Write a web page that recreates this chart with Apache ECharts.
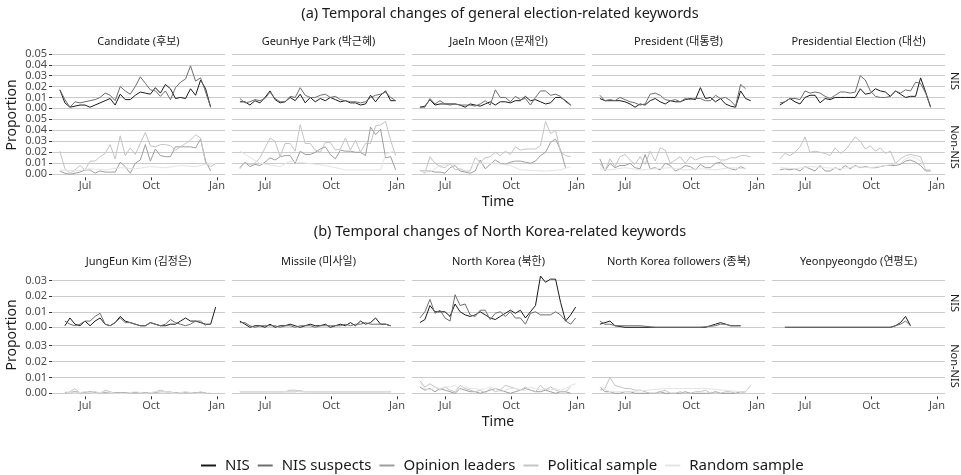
<!DOCTYPE html>
<html>
<head>
<meta charset="utf-8">
<script src="https://cdn.jsdelivr.net/npm/echarts@6/dist/echarts.min.js"></script>
<style>
  html, body { margin: 0; padding: 0; background: #fff; }
  #chart { width: 961px; height: 475px; }
</style>
</head>
<body>
<div id="chart"></div>
<script>
// weekly observations (week starting)
const weekStarts = ['2012-05-27', '2012-06-03', '2012-06-10', '2012-06-17', '2012-06-24',
  '2012-07-01', '2012-07-08', '2012-07-15', '2012-07-22', '2012-07-29', '2012-08-05',
  '2012-08-12', '2012-08-19', '2012-08-26', '2012-09-02', '2012-09-09', '2012-09-16',
  '2012-09-23', '2012-09-30', '2012-10-07', '2012-10-14', '2012-10-21', '2012-10-28',
  '2012-11-04', '2012-11-11', '2012-11-18', '2012-11-25', '2012-12-02', '2012-12-09',
  '2012-12-16', '2012-12-23', '2012-12-30'];

const tickDays = [0, 92, 184];          // days after 2012-07-01
const tickNames = ['Jul', 'Oct', 'Jan'];

const groups = ['NIS', 'NIS suspects', 'Opinion leaders', 'Political sample', 'Random sample'];
const groupColors = ['#1a1a1a', '#6e6e6e', '#9e9e9e', '#c4c4c4', '#e4e4e4'];

const keywordsA = ['Candidate (후보)', 'GeunHye Park (박근혜)', 'JaeIn Moon (문재인)', 'President (대통령)', 'Presidential Election (대선)'];
const keywordsB = ['JungEun Kim (김정은)', 'Missile (미사일)', 'North Korea (북한)', 'North Korea followers (종북)', 'Yeonpyeongdo (연평도)'];

// ---- Candidate
const candNIS  = [0.017,0.005,0.001,0.002,0.003,0.003,0.001,0.003,0.005,0.007,0.009,0.003,0.013,0.008,0.008,0.012,0.015,0.014,0.013,0.019,0.014,0.022,0.018,0.009,0.010,0.009,0.018,0.012,0.026,0.018,0.001,null];
const candSusp = [0.017,0.008,0.001,0.006,0.005,0.006,0.007,0.008,0.010,0.014,0.012,0.007,0.020,0.016,0.013,0.020,0.029,0.023,0.017,0.016,0.011,0.016,0.008,0.019,0.024,0.027,0.039,0.025,0.028,0.015,0.001,null];
const candOpin = [0.003,0.001,0.000,0.001,0.002,0.004,0.004,0.001,0.003,0.002,0.002,0.002,0.011,0.007,0.001,0.010,0.013,0.027,0.012,0.023,0.017,0.016,0.016,0.025,0.025,0.025,0.025,0.024,0.032,0.012,0.003,null];
const candPol  = [0.021,0.005,0.001,0.004,0.008,0.004,0.012,0.012,0.016,0.019,0.027,0.014,0.035,0.017,0.024,0.018,0.028,0.038,0.026,0.025,0.027,0.027,0.026,0.022,0.025,0.028,0.031,0.036,0.033,0.010,0.007,0.010];
const candRand = [0.004,null,null,0.003,null,null,0.005,null,null,0.004,null,null,0.006,null,null,0.005,null,null,0.007,null,null,0.006,null,null,0.008,null,null,0.007,null,0.009,null,0.010];

// ---- GeunHye Park
const parkNIS  = [0.006,0.006,0.003,0.007,0.005,0.010,0.016,0.008,0.005,0.006,0.010,0.007,0.013,0.005,0.010,0.006,0.009,0.007,0.010,0.008,0.006,0.007,0.005,0.005,0.003,0.004,0.012,0.006,0.012,0.016,0.007,0.007];
const parkSusp = [0.009,0.005,0.006,0.008,0.007,0.009,0.015,0.009,0.006,0.006,0.011,0.010,0.019,0.012,0.010,0.010,0.012,0.013,0.010,0.011,0.008,0.007,0.006,0.006,0.005,0.006,0.010,0.012,0.013,0.015,0.010,0.007];
const parkOpin = [0.006,0.011,0.007,0.009,0.008,0.011,0.015,0.013,0.016,0.017,0.017,0.010,0.021,0.018,0.018,0.020,0.023,0.025,0.018,0.014,0.022,0.021,0.021,0.020,0.020,0.017,0.043,0.036,0.041,0.015,0.016,0.004];
const parkPol  = [0.005,0.011,0.009,0.010,0.015,0.024,0.033,0.030,0.016,0.028,0.028,0.021,0.045,0.028,0.028,0.022,0.020,0.029,0.029,0.022,0.023,0.033,0.022,0.031,0.020,0.028,0.028,0.044,0.045,0.048,0.031,0.017];
const parkRand = [0.021,null,null,null,0.010,null,null,null,0.007,null,0.012,null,null,null,null,null,null,0.008,null,null,null,0.004,null,null,null,null,null,null,0.004,0.018,null,0.022];

// ---- JaeIn Moon
const moonNIS  = [0.001,0.002,0.008,0.003,0.004,0.004,0.004,0.004,0.003,0.001,0.004,0.003,0.002,0.004,0.006,0.003,0.006,0.006,0.005,0.007,0.007,0.011,0.007,0.008,0.006,0.004,0.005,0.010,0.010,0.007,0.003,null];
const moonSusp = [0.001,0.001,0.009,0.004,0.007,0.004,0.003,0.004,0.003,0.003,0.003,0.002,0.004,0.007,0.003,0.017,0.010,0.010,0.006,0.011,0.008,0.009,0.003,0.010,0.016,0.016,0.012,0.013,0.011,0.006,0.003,null];
const moonOpin = [0.003,0.003,0.003,0.002,0.002,0.001,0.006,0.008,0.003,0.002,0.001,0.003,0.013,0.005,0.009,0.013,0.010,0.009,0.011,0.012,0.012,0.011,0.010,0.012,0.017,0.020,0.029,0.032,0.022,0.006,null,null];
const moonPol  = [0.004,0.001,0.016,0.010,0.007,0.006,0.010,0.004,0.005,0.003,0.003,0.015,0.011,0.015,0.016,0.020,0.017,0.021,0.018,0.025,0.022,0.023,0.023,0.023,0.026,0.048,0.037,0.040,0.020,0.017,0.016,null];
const moonRand = [0.003,null,0.002,null,0.008,null,0.009,null,null,null,0.010,null,null,null,null,0.010,null,null,0.008,null,0.004,null,null,null,null,0.003,null,null,0.004,null,0.007,null];

// ---- President
const presNIS  = [0.009,0.007,0.007,0.007,0.007,0.006,0.004,0.001,0.004,0.003,0.007,0.009,0.006,0.004,0.007,0.006,0.006,0.008,0.009,0.008,0.019,0.009,0.010,0.006,0.009,0.004,0.002,0.001,0.016,0.009,0.007,null];
const presSusp = [0.012,0.007,0.008,0.007,0.010,0.008,0.006,0.005,0.003,0.004,0.013,0.014,0.012,0.008,0.007,0.008,0.006,0.009,0.008,0.009,0.009,0.007,0.007,0.012,0.009,0.010,0.007,0.002,0.022,0.018,null,null];
const presOpin = [0.014,0.003,0.010,0.006,0.008,0.008,0.010,0.006,0.005,0.018,0.005,0.006,0.004,0.010,0.008,0.003,0.005,0.008,0.007,0.004,0.009,0.006,0.006,0.010,0.011,0.007,0.005,0.004,0.007,0.005,null,null];
const presPol  = [0.010,0.003,0.014,0.007,0.016,0.018,0.013,0.009,0.016,0.009,0.021,0.012,0.024,0.022,0.010,0.013,0.016,0.010,0.016,0.013,0.015,0.016,0.016,0.016,0.013,0.013,0.015,0.015,0.017,0.017,0.016,null];
const presRand = [0.005,null,0.004,null,null,0.006,null,null,0.004,null,null,0.005,null,null,0.006,null,null,0.004,null,null,0.005,null,null,0.004,null,null,0.006,null,null,0.005,null,null];

// ---- Presidential Election
const elecNIS  = [0.003,0.006,0.009,0.006,0.004,0.010,0.012,0.012,0.005,0.009,0.008,0.010,0.010,0.010,0.010,0.010,0.018,0.013,0.014,0.018,0.016,0.015,0.011,0.016,0.013,0.010,0.011,0.011,0.028,0.015,0.001,null];
const elecSusp = [0.005,0.006,0.009,0.009,0.008,0.016,0.014,0.015,0.014,0.011,0.009,0.012,0.015,0.015,0.014,0.015,0.030,0.026,0.016,0.011,0.010,0.010,0.011,0.016,0.014,0.017,0.016,0.024,0.023,0.014,0.001,null];
const elecOpin = [0.004,0.005,0.004,0.005,0.003,0.007,0.005,0.003,0.008,0.003,0.003,0.006,0.004,0.008,0.005,0.008,0.006,0.007,0.006,0.006,0.007,0.008,0.008,0.008,0.009,0.012,0.013,0.011,0.008,0.003,0.003,null];
const elecPol  = [0.014,0.019,0.017,0.020,0.025,0.034,0.020,0.021,0.020,0.019,0.017,0.024,0.019,0.022,0.028,0.034,0.030,0.023,0.026,0.021,0.024,0.019,0.021,0.010,0.014,0.017,0.018,0.017,0.016,0.004,0.004,null];
const elecRand = [0.006,null,null,0.005,null,null,0.007,null,null,0.006,null,null,0.005,null,null,0.007,null,null,0.006,null,null,0.008,null,null,0.010,0.014,0.016,0.015,0.012,0.005,null,null];

// ---- JungEun Kim
const kimNIS  = [null,0.001,0.006,0.002,0.001,0.004,0.001,0.004,0.006,0.002,0.001,0.003,0.007,0.004,0.003,0.002,0.001,0.001,0.003,0.002,0.001,0.001,0.002,0.002,0.004,0.006,0.004,0.004,0.003,0.002,0.002,0.013];
const kimSusp = [null,0.004,0.002,0.001,0.002,0.004,0.004,0.007,0.009,0.002,0.001,0.003,0.006,0.003,0.003,0.002,0.001,0.001,0.003,0.002,0.001,0.002,0.005,0.003,0.002,0.001,0.002,0.004,0.004,0.001,null,null];
const kimOpin = [null,0.0005,0.0005,0.001,0.0005,0.0005,0.001,0.0005,0.0005,0.0005,0.0005,0.0005,0.0005,0.0005,0.0005,0.0005,0.0005,0.0005,0.0005,0.0005,0.001,0.001,0.0005,0.0005,0.0005,0.0005,0.0005,0.0005,0.0005,0.0005,null,null];
const kimPol  = [null,0.000,0.001,0.003,0.000,0.001,0.000,0.001,0.000,0.002,0.001,0.000,0.000,0.000,0.000,0.000,0.000,0.000,0.000,0.001,0.002,0.001,0.001,0.000,0.000,0.001,0.000,0.000,0.001,0.000,0.000,null];
const kimRand = [null,0.001,null,0.000,null,0.001,null,0.000,null,0.001,null,0.000,null,0.000,null,0.001,null,0.000,null,0.001,null,0.001,null,0.000,null,0.001,null,0.000,null,0.000,null,null];

// ---- Missile
const misNIS  = [0.004,0.002,0.000,0.001,0.001,0.000,0.002,0.000,0.001,0.001,0.002,0.001,0.000,0.001,0.002,0.001,0.001,0.002,0.000,0.001,0.002,0.001,0.003,0.001,0.004,0.002,0.003,0.006,0.002,0.002,0.001,null];
const misSusp = [0.003,0.003,0.001,0.000,0.001,0.001,0.001,0.001,0.000,0.001,0.001,0.000,0.001,0.001,0.001,0.000,0.001,0.001,0.001,0.001,0.001,0.002,0.001,0.002,0.002,0.003,0.002,0.002,0.002,0.002,0.001,null];
const misOpin = [0.001,0.001,0.001,0.001,0.001,0.001,0.001,0.001,0.001,0.001,0.001,0.001,0.0015,0.001,0.001,0.001,0.001,0.001,0.001,0.001,0.001,0.001,0.001,0.001,0.001,0.001,0.001,0.001,0.001,0.001,0.001,null];
const misPol  = [0.001,0.001,0.001,0.001,0.001,0.001,0.001,0.001,0.001,0.001,0.002,0.002,0.001,0.001,0.001,0.001,0.001,0.001,0.001,0.001,0.001,0.001,0.001,0.001,0.001,0.001,0.001,0.001,0.001,0.001,0.001,null];
const misRand = [0.001,null,0.001,null,0.001,null,0.001,null,0.001,null,0.001,null,0.001,null,0.001,null,0.001,null,0.001,null,0.001,null,0.001,null,0.001,null,0.001,null,0.001,null,0.001,null];

// ---- North Korea
const nkNIS  = [0.003,0.005,0.014,0.010,0.010,0.010,0.007,0.015,0.010,0.008,0.007,0.008,0.010,0.008,0.006,0.005,0.007,0.009,0.011,0.009,0.011,0.006,0.010,0.014,0.033,0.029,0.031,0.031,0.016,0.004,0.008,0.013];
const nkSusp = [0.006,0.010,0.018,0.009,0.011,0.006,0.004,0.021,0.014,0.015,0.008,0.007,0.011,0.011,0.005,0.009,0.010,0.007,0.010,0.006,0.006,0.002,0.009,0.010,0.008,0.008,0.008,0.010,0.008,0.004,0.002,0.006];
const nkOpin = [0.004,0.002,0.003,0.001,0.003,0.002,0.001,0.000,0.003,0.002,0.001,0.001,0.000,0.001,0.002,0.003,0.002,0.001,0.000,0.001,0.002,0.003,0.002,0.001,0.001,0.002,0.001,0.000,0.001,0.001,0.000,null];
const nkPol  = [0.008,0.004,0.006,0.004,0.002,0.004,0.002,0.001,0.005,0.003,0.002,0.001,0.002,0.000,0.003,0.001,0.002,0.005,0.004,0.003,0.002,0.004,0.002,0.001,0.005,0.002,0.004,0.002,0.001,0.001,0.004,null];
const nkRand = [0.007,0.003,0.002,0.004,0.003,0.004,0.004,0.005,0.002,0.004,0.003,0.003,0.002,0.003,0.004,0.003,0.001,0.002,0.003,0.003,0.002,0.002,0.004,0.003,0.002,0.003,0.002,0.003,0.002,0.003,0.005,0.006];

// ---- North Korea followers
const nkfNIS  = [0.002,0.003,0.004,0.001,null,0.000,null,null,null,null,0.000,null,null,null,0.000,null,null,0.000,null,null,null,0.000,0.001,0.002,0.003,0.002,0.001,0.001,0.001,null,null,null];
const nkfSusp = [0.004,0.002,0.002,0.001,null,0.001,null,null,0.001,null,null,0.000,null,null,0.000,null,null,0.000,null,null,0.000,null,null,0.001,0.002,0.002,0.001,0.001,0.001,null,null,null];
const nkfOpin = [0.004,0.001,0.001,0.000,0.000,0.001,0.001,0.000,0.000,0.000,0.000,0.000,0.001,0.000,0.000,0.000,0.000,0.001,0.000,0.000,0.000,0.000,0.000,0.001,0.000,0.000,0.000,0.000,0.001,0.001,null,null];
const nkfPol  = [0.002,0.003,0.010,0.005,0.004,0.003,0.003,0.002,0.002,0.001,0.000,0.000,0.001,0.002,0.000,0.000,0.001,0.000,0.000,0.001,0.001,0.002,0.000,0.001,0.000,0.001,0.001,0.000,0.000,0.001,0.005,null];
const nkfRand = [0.004,null,0.001,null,null,null,0.001,null,null,null,null,null,null,0.003,null,null,null,null,null,null,null,0.003,null,null,null,null,null,null,0.001,0.001,0.005,null];

// ---- Yeonpyeongdo
const yeonNIS  = [null,0.000,0.000,0.000,0.000,0.000,0.000,0.000,0.000,0.000,0.000,0.000,0.000,0.000,0.000,0.000,0.000,0.000,0.000,0.000,0.000,0.000,0.000,0.001,0.003,0.007,0.001,null,null,null,null,null];
const yeonSusp = [null,0.000,0.000,0.000,0.000,0.000,0.000,0.000,0.000,0.000,0.000,0.000,0.000,0.000,0.000,0.000,0.000,0.000,0.000,0.000,0.000,0.000,0.000,0.001,0.002,0.004,0.001,null,null,null,null,null];
const yeonOpin = [];
const yeonPol  = [];
const yeonRand = [];

const panelSeries = [
  [candNIS, candSusp, candOpin, candPol, candRand],
  [parkNIS, parkSusp, parkOpin, parkPol, parkRand],
  [moonNIS, moonSusp, moonOpin, moonPol, moonRand],
  [presNIS, presSusp, presOpin, presPol, presRand],
  [elecNIS, elecSusp, elecOpin, elecPol, elecRand],
  [kimNIS, kimSusp, kimOpin, kimPol, kimRand],
  [misNIS, misSusp, misOpin, misPol, misRand],
  [nkNIS, nkSusp, nkOpin, nkPol, nkRand],
  [nkfNIS, nkfSusp, nkfOpin, nkfPol, nkfRand],
  [yeonNIS, yeonSusp, yeonOpin, yeonPol, yeonRand]
];

const day0 = Date.UTC(2012, 6, 1);
const weekDays = weekStarts.map(s => {
  const p = s.split('-').map(Number);
  return (Date.UTC(p[0], p[1] - 1, p[2]) - day0) / 86400000;
});

const colLeft = [52, 232, 412, 592, 772];
const colWidth = 173;
const blocks = [
  { keys: keywordsA, yMax: 0.05, tops: [54, 119.3], heights: [54.3, 55], title: '(a) Temporal changes of general election-related keywords', titleY: 14, stripY: 42, labelMargin: 3, strips: [81, 147], timeY: 202, propY: 115 },
  { keys: keywordsB, yMax: 0.03, tops: [280.7, 345.7], heights: [46.6, 47.6], title: '(b) Temporal changes of North Korea-related keywords', titleY: 232, stripY: 262, labelMargin: 4, strips: [303, 366], timeY: 422, propY: 335 }
];

const FONT = "'Noto Sans', 'Noto Sans CJK KR', sans-serif";
const grids = [], xAxes = [], yAxes = [], series = [], graphics = [];

blocks.forEach((b, bi) => {
  graphics.push({ type: 'text', x: 500, y: b.titleY, style: { text: b.title, font: '14.5px ' + FONT, fill: '#1a1a1a', textAlign: 'center', textVerticalAlign: 'middle' } });
  graphics.push({ type: 'text', x: 498, y: b.timeY, style: { text: 'Time', font: '14px ' + FONT, fill: '#1a1a1a', textAlign: 'center', textVerticalAlign: 'middle' } });
  graphics.push({ type: 'text', x: 12, y: b.propY, rotation: Math.PI / 2, style: { text: 'Proportion', font: '14px ' + FONT, fill: '#1a1a1a', textAlign: 'center', textVerticalAlign: 'middle' } });
  ['NIS', 'Non-NIS'].forEach((s, r) => {
    graphics.push({ type: 'text', x: 954, y: b.strips[r], rotation: -Math.PI / 2, style: { text: s, font: '11px ' + FONT, fill: '#1a1a1a', textAlign: 'center', textVerticalAlign: 'middle' } });
  });
  b.keys.forEach((k, c) => {
    graphics.push({ type: 'text', x: colLeft[c] + colWidth / 2, y: b.stripY, style: { text: k, font: '11px ' + FONT, fill: '#1a1a1a', textAlign: 'center', textVerticalAlign: 'middle' } });
    const data = panelSeries[bi * 5 + c];
    [0, 1].forEach(r => {
      const g = grids.length;
      grids.push({ left: colLeft[c], top: b.tops[r], width: colWidth, height: b.heights[r] });
      const bottomRow = r === 1;
      xAxes.push({
        gridIndex: g, type: 'value', min: -46, max: 195, offset: 3,
        axisLine: { show: false, onZero: false },
        splitLine: { show: false },
        axisTick: { show: bottomRow, customValues: tickDays, length: 3, lineStyle: { color: '#333' } },
        axisLabel: {
          show: bottomRow, customValues: tickDays, margin: b.labelMargin,
          fontSize: 11, fontFamily: FONT, color: '#4d4d4d',
          formatter: v => tickNames[tickDays.indexOf(v)] || ''
        }
      });
      yAxes.push({
        gridIndex: g, type: 'value', min: 0, max: b.yMax, interval: 0.01,
        axisLine: { show: false, onZero: false },
        axisTick: { show: c === 0, length: 3, lineStyle: { color: '#333' } },
        axisLabel: { show: c === 0, margin: 5, fontSize: 11, fontFamily: FONT, color: '#4d4d4d', formatter: v => v.toFixed(2) },
        splitLine: { lineStyle: { color: '#cccccc', width: 1 } }
      });
      const gi = r === 0 ? [0, 1] : [2, 3, 4];
      gi.forEach(j => {
        const pts = [];
        (data[j] || []).forEach((v, i) => { if (v !== null && v !== undefined) pts.push([weekDays[i], v]); });
        series.push({
          name: groups[j], type: 'line', xAxisIndex: g, yAxisIndex: g,
          data: pts, showSymbol: false, symbol: 'none', clip: false, silent: true,
          color: groupColors[j], lineStyle: { width: 1, color: groupColors[j] }
        });
      });
    });
  });
});

const chart = echarts.init(document.getElementById('chart'));
chart.setOption({
  animation: false,
  backgroundColor: '#fff',
  grid: grids,
  xAxis: xAxes,
  yAxis: yAxes,
  series: series,
  graphic: graphics,
  legend: {
    data: groups, left: 196, top: 453, selectedMode: false,
    icon: 'rect', itemWidth: 15, itemHeight: 2, itemGap: 8,
    textStyle: { fontSize: 15, fontFamily: FONT, color: '#1a1a1a', padding: [0, 0, 0, 4] }
  }
});
</script>
</body>
</html>
